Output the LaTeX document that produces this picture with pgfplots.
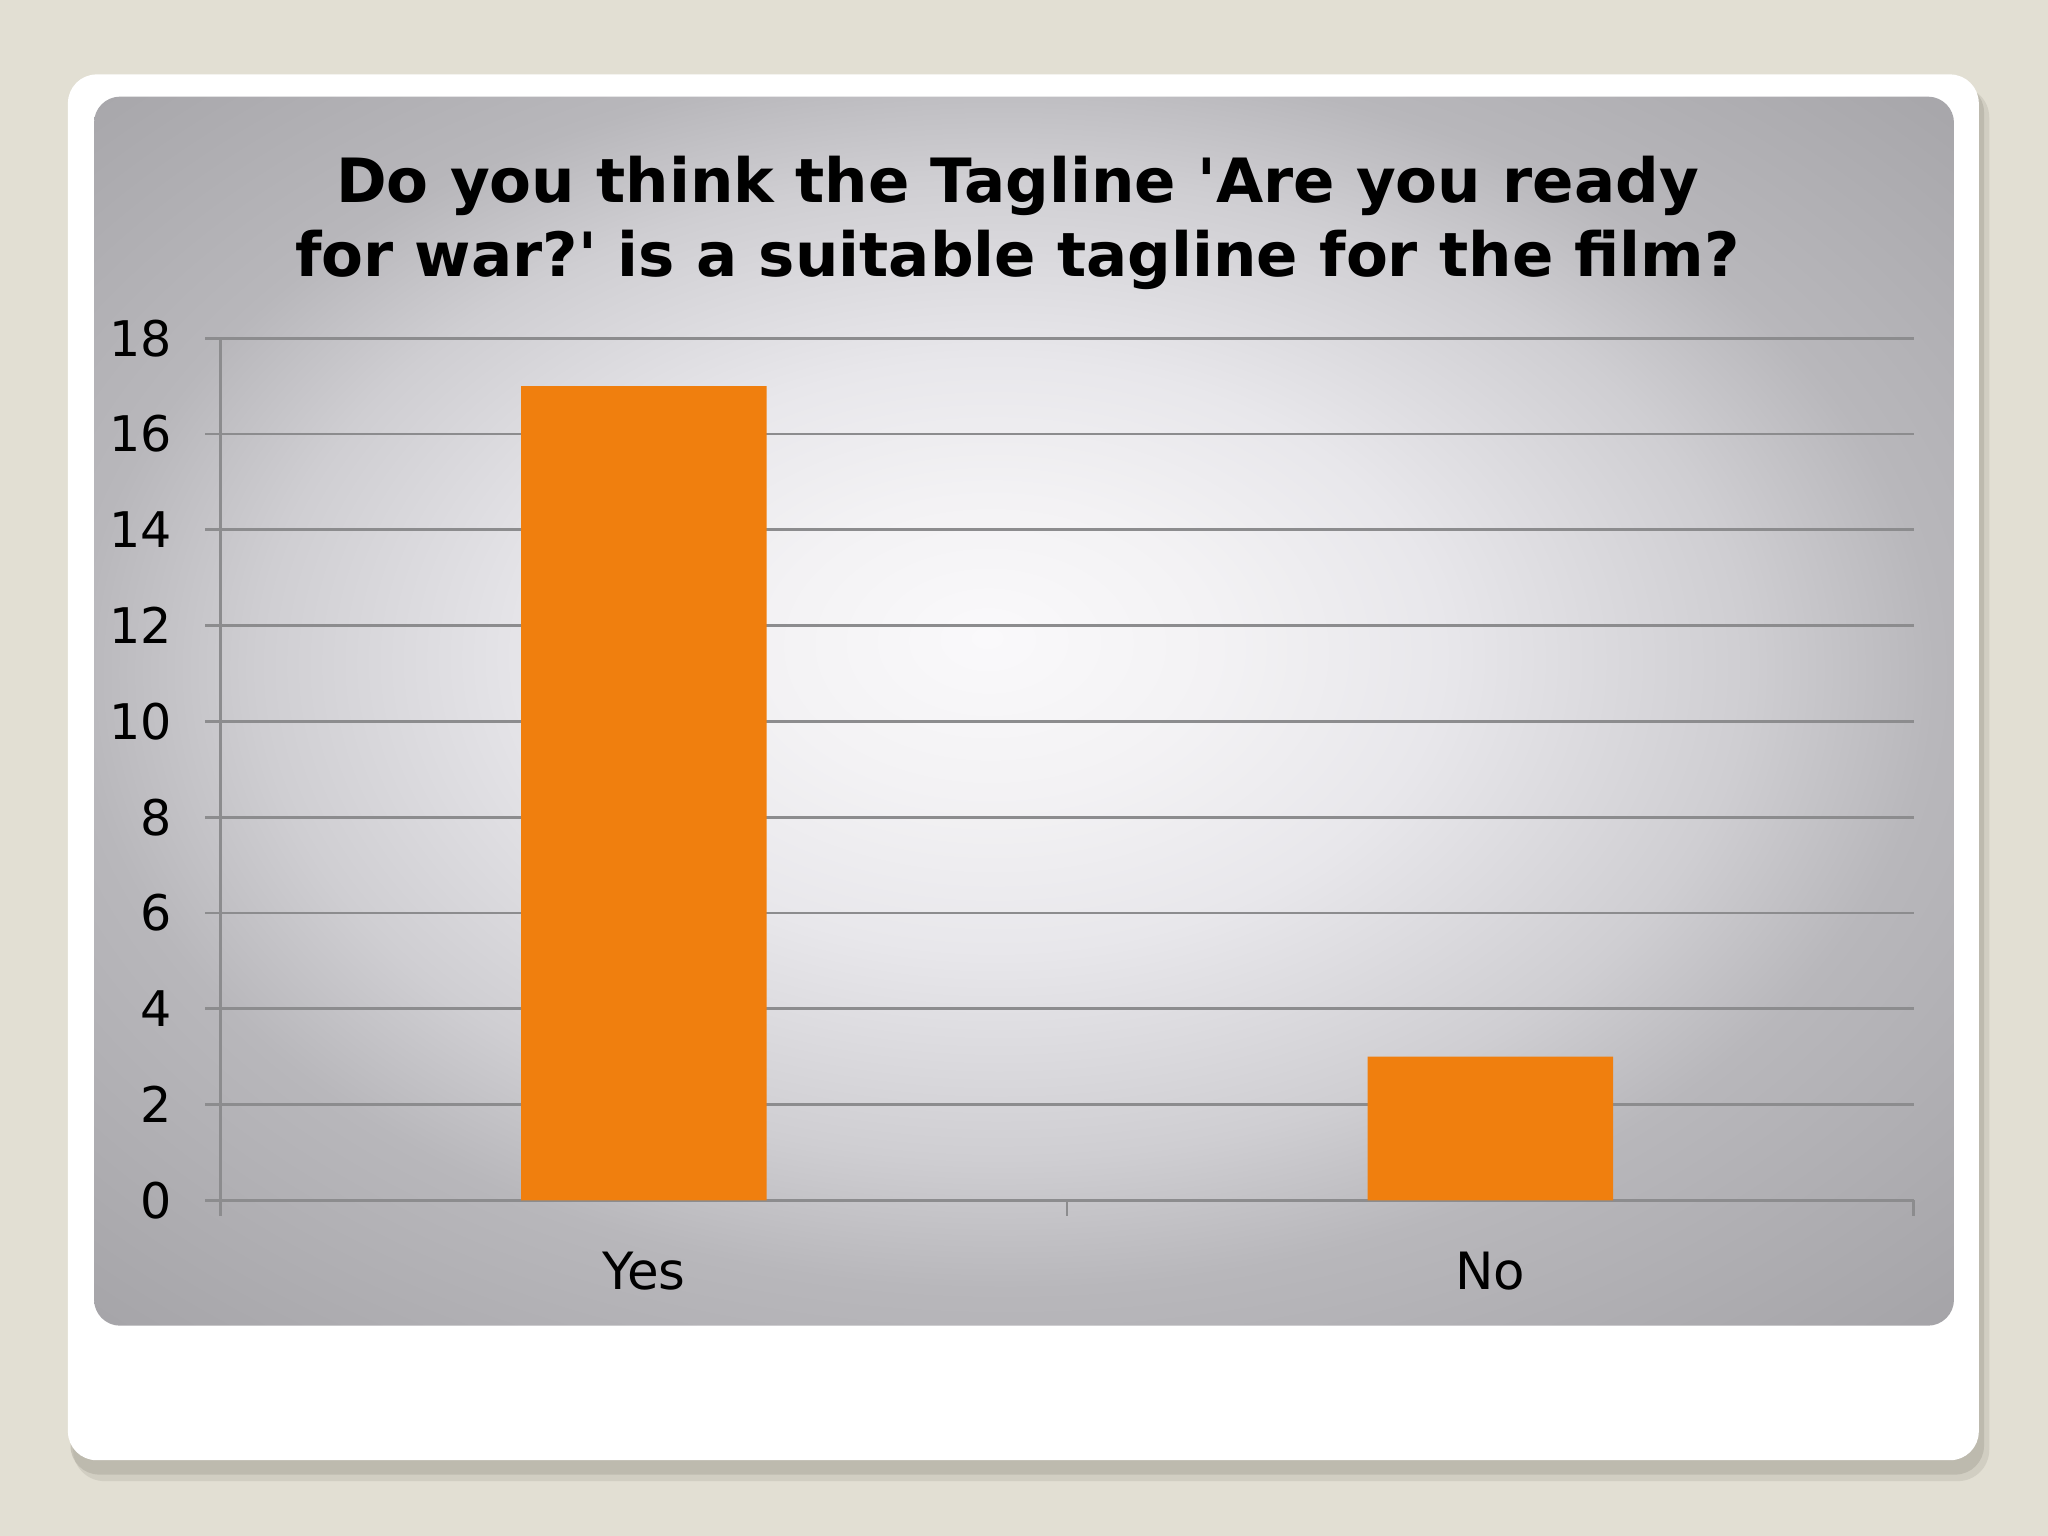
\documentclass[border=0pt]{standalone}
\usepackage{fontspec}
\setmainfont{DejaVu Sans}
\usepackage{pgfplots}
\pgfplotsset{compat=1.18}
\usetikzlibrary{calc}

\definecolor{slidebg}{HTML}{E2DFD3}
\definecolor{shadowcol}{HTML}{ABA79B}
\definecolor{barorange}{HTML}{F07F0E}
\definecolor{gridgray}{HTML}{8C8C8E}
\definecolor{panelmid}{HTML}{FAF9FB}
\definecolor{panela}{HTML}{F3F2F4}
\definecolor{panelin}{HTML}{E8E7EB}
\definecolor{panelb}{HTML}{CFCED2}
\definecolor{paneledge}{HTML}{B8B7BB}
\definecolor{panelcorner}{HTML}{A5A4A8}

\pgfdeclareradialshading{panelshade}{\pgfpoint{-1bp}{3bp}}{%
  color(0bp)=(panelmid); color(6bp)=(panela); color(12bp)=(panelin);
  color(20bp)=(panelb); color(25bp)=(paneledge); color(36bp)=(panelcorner);
  color(50bp)=(panelcorner)}

\begin{document}
\begin{tikzpicture}
% slide background, card and chart panel
\fill[slidebg] (0,0) rectangle (15.68,11.76);
\fill[shadowcol, opacity=0.3, rounded corners=0.24cm] (0.56,0.42) rectangle (15.23,11.10);
\fill[shadowcol, opacity=0.5, rounded corners=0.22cm] (0.54,0.47) rectangle (15.19,11.12);
\fill[white, rounded corners=0.22cm] (0.52,0.58) rectangle (15.15,11.19);
\shade[shading=panelshade, rounded corners=0.2cm] (0.72,1.61) rectangle (14.96,11.02);

% title
\node[anchor=base, font=\fontsize{13.3}{16}\selectfont\bfseries] at (7.79,10.21)
  {Do you think the Tagline \textquotesingle Are you ready};
\node[anchor=base, font=\fontsize{13.3}{16}\selectfont\bfseries] at (7.79,9.64)
  {for war?\textquotesingle\ is a suitable tagline for the film?};

\begin{axis}[
  at={(1.69cm,2.57cm)}, anchor=south west,
  scale only axis,
  width=12.96cm, height=6.6cm,
  xmin=-0.5, xmax=1.5,
  ymin=0, ymax=18,
  ytick={0,2,...,18},
  xtick={-0.5,0.5,1.5},
  x tick label as interval,
  xticklabels={Yes,No},
  axis x line*=bottom,
  axis y line*=left,
  axis line style={gridgray, line width=0.6pt},
  tick style={gridgray, line width=0.6pt},
  tick align=outside,
  major tick length=0.12cm,
  ymajorgrids,
  major grid style={gridgray, line width=0.6pt},
  ticklabel style={font=\fontsize{10.7}{12}\selectfont},
  /pgf/number format/assume math mode=true,
  yticklabel style={xshift=-0.13cm},
  xticklabel style={yshift=-0.15cm, font=\fontsize{11.2}{12}\selectfont},
]
\addplot[ybar, bar width=1.88cm, fill=barorange, draw=none] coordinates {(0,17) (1,3)};
\end{axis}
\end{tikzpicture}
\end{document}
